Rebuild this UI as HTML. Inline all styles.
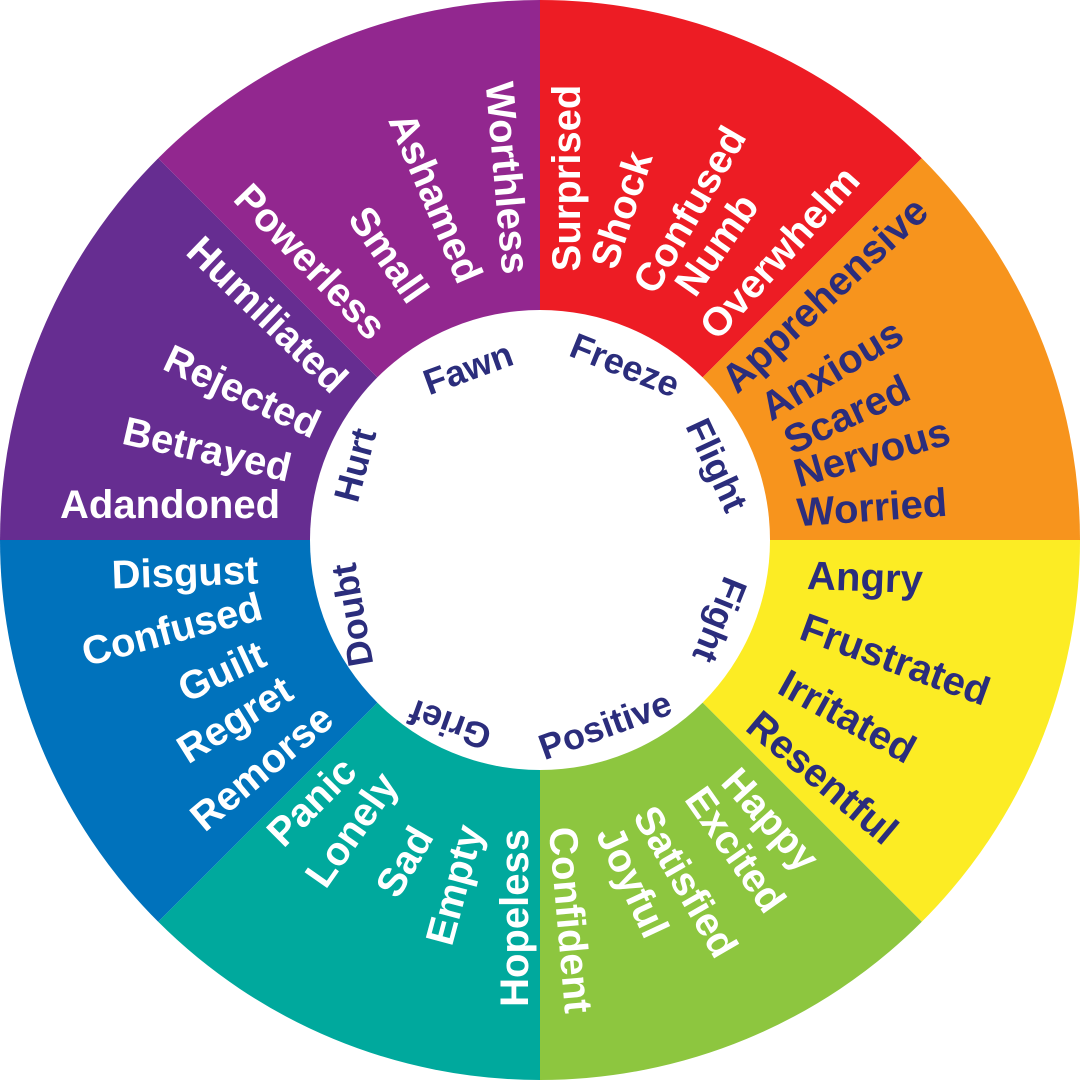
<!DOCTYPE html>
<html><head><meta charset="utf-8"><style>html,body{margin:0;padding:0;background:#fff}svg{display:block}</style></head>
<body>
<svg width="1080" height="1080" viewBox="0 0 1080 1080" xmlns="http://www.w3.org/2000/svg">
<g>
<path d="M540,540 L540,0 A540,540 0 0 1 921.8,158.2 Z" fill="#ED1C24"/>
<path d="M540,540 L921.8,158.2 A540,540 0 0 1 1080,540 Z" fill="#F7941D"/>
<path d="M540,540 L1080,540 A540,540 0 0 1 921.8,921.8 Z" fill="#FCEC24"/>
<path d="M540,540 L921.8,921.8 A540,540 0 0 1 540,1080 Z" fill="#8DC63F"/>
<path d="M540,540 L540,1080 A540,540 0 0 1 158.2,921.8 Z" fill="#00A99D"/>
<path d="M540,540 L158.2,921.8 A540,540 0 0 1 0,540 Z" fill="#0072BC"/>
<path d="M540,540 L0,540 A540,540 0 0 1 158.2,158.2 Z" fill="#662D91"/>
<path d="M540,540 L158.2,158.2 A540,540 0 0 1 540,0 Z" fill="#92278F"/>
<circle cx="540" cy="540" r="230" fill="#fff"/>
</g>
<g font-family="Liberation Sans, sans-serif" font-weight="bold" font-size="40" text-anchor="middle" dominant-baseline="central">
<g fill="#fff">
<text transform="translate(567,178) rotate(-90)">Surprised</text>
<text transform="translate(622,210) rotate(-72)">Shock</text>
<text transform="translate(690,210) rotate(-60)">Confused</text>
<text transform="translate(717,245) rotate(-55)">Numb</text>
<text transform="translate(780,253) rotate(-48)">Overwhelm</text>
</g>
<g fill="#2B2D7C">
<text transform="translate(825,295) rotate(-43)">Apprehensive</text>
<text transform="translate(832,370) rotate(-31)">Anxious</text>
<text transform="translate(847,415) rotate(-25)">Scared</text>
<text transform="translate(872,453) rotate(-16)">Nervous</text>
<text transform="translate(872,508) rotate(-4)">Worried</text>
<text transform="translate(865,578) rotate(2)">Angry</text>
<text transform="translate(895,660) rotate(20)">Frustrated</text>
<text transform="translate(847,717) rotate(29)">Irritated</text>
<text transform="translate(822,778) rotate(40)">Resentful</text>
</g>
<g fill="#fff">
<text transform="translate(770,820) rotate(48)">Happy</text>
<text transform="translate(735,850) rotate(55)">Excited</text>
<text transform="translate(685,882) rotate(60)">Satisfied</text>
<text transform="translate(632,882) rotate(65)">Joyful</text>
<text transform="translate(570,920) rotate(85)">Confident</text>
<text transform="translate(515,918) rotate(-90)">Hopeless</text>
<text transform="translate(455,885) rotate(-75)">Empty</text>
<text transform="translate(405,862) rotate(-60)">Sad</text>
<text transform="translate(352,830) rotate(-55)">Lonely</text>
<text transform="translate(312,802) rotate(-45)">Panic</text>
<text transform="translate(262,768) rotate(-40)">Remorse</text>
<text transform="translate(235,720) rotate(-32)">Regret</text>
<text transform="translate(222,672) rotate(-25)">Guilt</text>
<text transform="translate(172,630) rotate(-15)">Confused</text>
<text transform="translate(185,573) rotate(-2)">Disgust</text>
<text transform="translate(170,505) rotate(0)">Adandoned</text>
<text transform="translate(207,450) rotate(13)">Betrayed</text>
<text transform="translate(242,392) rotate(25)">Rejected</text>
<text transform="translate(267,315) rotate(44)">Humiliated</text>
<text transform="translate(310,262) rotate(46)">Powerless</text>
<text transform="translate(388,255) rotate(55)">Small</text>
<text transform="translate(435,198) rotate(67)">Ashamed</text>
<text transform="translate(507,178) rotate(85)">Worthless</text>
</g>
<g fill="#2B2D7C" font-size="36">
<text transform="translate(625,365) rotate(22)">Freeze</text>
<text transform="translate(717,465) rotate(65)">Flight</text>
<text transform="translate(720,620) rotate(112)">Fight</text>
<text transform="translate(605,725) rotate(-20)">Positive</text>
<text transform="translate(450,725) rotate(200)">Grief</text>
<text transform="translate(352,615) rotate(-100)">Doubt</text>
<text transform="translate(355,465) rotate(-75)">Hurt</text>
<text transform="translate(468,368) rotate(-20)">Fawn</text>
</g>
</g>
</svg>
</body></html>
